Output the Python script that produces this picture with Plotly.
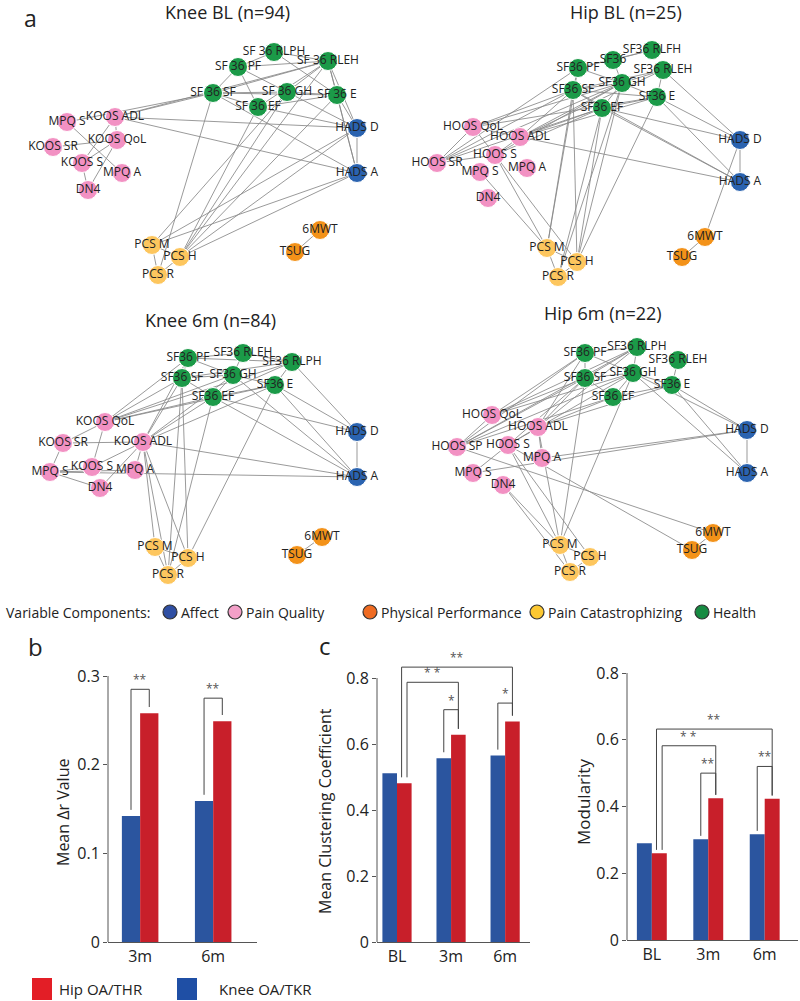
import plotly.graph_objects as go

W, H = 800, 1001
FONT = "Open Sans"
INK = "#222222"
AXIS = "#555555"

# variable components (node groups)
AFF, PQ, PP, PC, HE = "Affect", "Pain Quality", "Physical Performance", "Pain Catastrophizing", "Health"
components = [AFF, PQ, PP, PC, HE]
node_colors = {AFF: "#2a63b0", PQ: "#f291c3", PP: "#f39219", PC: "#fdc65e", HE: "#1b9a48"}
legend_colors = {AFF: "#2f4fa3", PQ: "#f3a0c8", PP: "#ef6b22", PC: "#fcc832", HE: "#178b42"}

# ---- network layouts: (label, component, x, y) in each panel's layout units ----
knee_bl_nodes = [
    ("SF 36 RLPH", HE, 274, 52), ("SF 36 RLEH", HE, 328, 61), ("SF 36 PF", HE, 238, 67),
    ("SF 36 SF", HE, 213, 93), ("SF 36 GH", HE, 287, 92), ("SF 36 EF", HE, 258, 107),
    ("SF 36 E", HE, 337, 95), ("HADS D", AFF, 357, 128), ("HADS A", AFF, 357, 173),
    ("KOOS ADL", PQ, 115, 117), ("MPQ S", PQ, 67, 122), ("KOOS QoL", PQ, 117, 140),
    ("KOOS SR", PQ, 53, 147), ("KOOS S", PQ, 82, 163), ("MPQ A", PQ, 122, 173),
    ("DN4", PQ, 88, 190), ("PCS M", PC, 152, 245), ("PCS H", PC, 180, 257),
    ("PCS R", PC, 158, 275), ("6MWT", PP, 320, 230), ("TSUG", PP, 295, 252),
]
knee_bl_edges = [
    ("SF 36 RLPH", "SF 36 RLEH"), ("SF 36 RLPH", "SF 36 PF"), ("SF 36 RLPH", "SF 36 E"),
    ("SF 36 PF", "SF 36 RLEH"), ("SF 36 PF", "SF 36 SF"), ("SF 36 PF", "SF 36 GH"),
    ("SF 36 PF", "SF 36 EF"), ("SF 36 SF", "SF 36 GH"), ("SF 36 SF", "SF 36 EF"),
    ("SF 36 SF", "SF 36 RLEH"), ("SF 36 SF", "SF 36 E"), ("SF 36 GH", "SF 36 E"),
    ("SF 36 GH", "SF 36 RLEH"), ("SF 36 EF", "SF 36 E"), ("SF 36 EF", "SF 36 RLEH"),
    ("SF 36 RLEH", "SF 36 E"), ("SF 36 RLEH", "HADS D"), ("SF 36 RLEH", "HADS A"),
    ("SF 36 E", "HADS D"), ("SF 36 E", "HADS A"), ("SF 36 GH", "HADS D"),
    ("SF 36 EF", "HADS D"), ("SF 36 SF", "HADS A"), ("HADS D", "HADS A"),
    ("KOOS ADL", "SF 36 SF"), ("KOOS ADL", "SF 36 RLEH"), ("MPQ S", "SF 36 SF"),
    ("KOOS ADL", "HADS D"), ("KOOS ADL", "HADS A"), ("KOOS ADL", "KOOS QoL"),
    ("KOOS ADL", "KOOS S"), ("KOOS QoL", "KOOS S"), ("KOOS QoL", "KOOS SR"),
    ("KOOS S", "DN4"), ("MPQ S", "MPQ A"), ("KOOS QoL", "DN4"),
    ("PCS H", "SF 36 E"), ("PCS H", "SF 36 RLEH"), ("PCS H", "SF 36 GH"),
    ("PCS H", "HADS D"), ("PCS H", "HADS A"), ("PCS H", "SF 36 EF"),
    ("PCS M", "HADS D"), ("PCS M", "HADS A"), ("PCS M", "SF 36 GH"),
    ("PCS R", "SF 36 SF"), ("PCS M", "PCS R"), ("PCS M", "PCS H"),
    ("PCS H", "PCS R"), ("6MWT", "TSUG"),
]

hip_bl_nodes = [
    ("SF36 RLFH", HE, 252, 50), ("SF36", HE, 213, 60), ("SF36 PF", HE, 178, 68),
    ("SF36 RLEH", HE, 263, 70), ("SF36 SF", HE, 173, 90), ("SF36 GH", HE, 222, 83),
    ("SF36 E", HE, 257, 97), ("SF36 EF", HE, 202, 108), ("HADS D", AFF, 340, 140),
    ("HADS A", AFF, 340, 182), ("HOOS QoL", PQ, 73, 127), ("HOOS ADL", PQ, 120, 137),
    ("HOOS S", PQ, 95, 155), ("HOOS SR", PQ, 37, 163), ("MPQ S", PQ, 80, 172),
    ("MPQ A", PQ, 127, 168), ("DN4", PQ, 88, 198), ("PCS M", PC, 147, 248),
    ("PCS H", PC, 177, 262), ("PCS R", PC, 158, 277), ("6MWT", PP, 305, 237),
    ("TSUG", PP, 282, 257),
]
hip_bl_edges = [
    ("SF36 RLFH", "SF36"), ("SF36 RLFH", "SF36 PF"), ("SF36 PF", "SF36 SF"),
    ("SF36 PF", "SF36 GH"), ("SF36", "SF36 GH"), ("SF36 SF", "SF36 GH"),
    ("SF36 SF", "SF36 EF"), ("SF36 SF", "SF36 E"), ("SF36 GH", "SF36 EF"),
    ("SF36 GH", "SF36 E"), ("SF36 GH", "SF36 RLEH"), ("SF36 RLEH", "SF36 E"),
    ("SF36 EF", "SF36 E"), ("SF36 SF", "SF36 RLEH"),
    ("SF36 RLEH", "HADS D"), ("SF36 E", "HADS D"), ("SF36 EF", "HADS D"),
    ("SF36 EF", "HADS A"), ("SF36 E", "HADS A"), ("SF36 SF", "HADS A"),
    ("HADS D", "HADS A"), ("HADS D", "6MWT"), ("6MWT", "TSUG"),
    ("HOOS SR", "SF36 SF"), ("HOOS SR", "SF36 PF"), ("HOOS SR", "SF36 EF"),
    ("HOOS SR", "SF36 GH"), ("HOOS QoL", "SF36 SF"), ("HOOS QoL", "SF36 GH"),
    ("HOOS QoL", "SF36 E"), ("HOOS ADL", "SF36 SF"), ("HOOS ADL", "SF36 GH"),
    ("HOOS ADL", "SF36 EF"), ("HOOS ADL", "SF36 E"), ("HOOS ADL", "SF36 RLEH"),
    ("HOOS ADL", "HADS A"), ("HOOS S", "SF36 EF"), ("HOOS S", "SF36 GH"),
    ("HOOS S", "HOOS ADL"), ("HOOS S", "HOOS QoL"), ("HOOS SR", "HOOS QoL"),
    ("HOOS SR", "HOOS S"), ("HOOS QoL", "HOOS ADL"),
    ("HOOS S", "PCS M"), ("MPQ S", "PCS M"), ("HOOS S", "PCS H"),
    ("PCS M", "SF36 SF"), ("PCS M", "SF36 PF"), ("PCS H", "SF36 SF"),
    ("PCS H", "SF36 GH"), ("PCS H", "SF36 EF"), ("PCS H", "SF36 E"),
    ("PCS R", "SF36 GH"), ("PCS R", "SF36 EF"), ("PCS M", "PCS R"),
    ("PCS M", "PCS H"), ("PCS H", "PCS R"),
]

knee_6m_nodes = [
    ("SF36 PF", HE, 188, 68), ("SF36 RLEH", HE, 243, 63), ("SF36 RLPH", HE, 292, 72),
    ("SF36 SF", HE, 182, 88), ("SF36 GH", HE, 233, 85), ("SF36 E", HE, 275, 95),
    ("SF36 EF", HE, 213, 107), ("HADS D", AFF, 357, 142), ("HADS A", AFF, 357, 187),
    ("KOOS QoL", PQ, 105, 132), ("KOOS ADL", PQ, 143, 152), ("KOOS SR", PQ, 63, 153),
    ("KOOS S", PQ, 92, 177), ("MPQ S", PQ, 50, 182), ("MPQ A", PQ, 135, 180),
    ("DN4", PQ, 100, 198), ("PCS M", PC, 155, 257), ("PCS H", PC, 188, 268),
    ("PCS R", PC, 168, 285), ("6MWT", PP, 322, 247), ("TSUG", PP, 297, 265),
]
knee_6m_edges = [
    ("SF36 PF", "SF36 RLEH"), ("SF36 PF", "SF36 SF"), ("SF36 PF", "SF36 GH"),
    ("SF36 PF", "SF36 RLPH"), ("SF36 RLEH", "SF36 RLPH"), ("SF36 RLEH", "SF36 GH"),
    ("SF36 SF", "SF36 GH"), ("SF36 SF", "SF36 EF"), ("SF36 SF", "SF36 RLPH"),
    ("SF36 GH", "SF36 E"), ("SF36 GH", "SF36 EF"), ("SF36 EF", "SF36 RLPH"),
    ("SF36 E", "SF36 RLPH"), ("SF36 EF", "SF36 E"),
    ("SF36 RLPH", "HADS D"), ("SF36 E", "HADS D"), ("SF36 E", "HADS A"),
    ("SF36 EF", "HADS D"), ("SF36 EF", "HADS A"), ("SF36 GH", "HADS A"),
    ("HADS D", "HADS A"), ("KOOS ADL", "HADS A"), ("MPQ S", "HADS A"),
    ("KOOS QoL", "SF36 PF"), ("KOOS QoL", "SF36 SF"), ("KOOS QoL", "SF36 GH"),
    ("KOOS QoL", "SF36 EF"), ("KOOS QoL", "SF36 E"), ("KOOS QoL", "SF36 RLPH"),
    ("KOOS ADL", "SF36 SF"), ("KOOS ADL", "SF36 GH"), ("KOOS ADL", "SF36 EF"),
    ("KOOS ADL", "SF36 E"), ("KOOS ADL", "SF36 PF"), ("KOOS SR", "KOOS QoL"),
    ("KOOS SR", "KOOS ADL"), ("KOOS SR", "MPQ S"), ("KOOS QoL", "KOOS S"),
    ("KOOS ADL", "KOOS S"), ("KOOS ADL", "MPQ A"), ("KOOS ADL", "DN4"),
    ("KOOS S", "MPQ S"), ("MPQ S", "DN4"), ("MPQ S", "MPQ A"),
    ("KOOS ADL", "PCS M"), ("KOOS ADL", "PCS H"), ("KOOS ADL", "PCS R"),
    ("PCS H", "SF36 E"), ("PCS H", "SF36 SF"), ("PCS R", "SF36 SF"),
    ("PCS R", "SF36 EF"), ("PCS M", "PCS R"), ("PCS M", "PCS H"),
    ("PCS H", "PCS R"), ("6MWT", "TSUG"),
]

hip_6m_nodes = [
    ("SF36 PF", HE, 185, 63), ("SF36 RLPH", HE, 237, 57), ("SF36 RLEH", HE, 278, 70),
    ("SF36 SF", HE, 185, 88), ("SF36 GH", HE, 233, 83), ("SF36 E", HE, 272, 95),
    ("SF36 EF", HE, 213, 107), ("HADS D", AFF, 347, 140), ("HADS A", AFF, 347, 183),
    ("HOOS QoL", PQ, 92, 125), ("HOOS ADL", PQ, 138, 137), ("HOOS SP", PQ, 57, 157),
    ("HOOS S", PQ, 108, 155), ("MPQ A", PQ, 142, 168), ("MPQ S", PQ, 73, 183),
    ("DN4", PQ, 103, 195), ("PCS M", PC, 160, 255), ("PCS H", PC, 190, 267),
    ("PCS R", PC, 170, 282), ("6MWT", PP, 313, 243), ("TSUG", PP, 292, 260),
]
hip_6m_edges = [
    ("SF36 PF", "SF36 RLPH"), ("SF36 PF", "SF36 SF"), ("SF36 PF", "SF36 GH"),
    ("SF36 RLPH", "SF36 SF"), ("SF36 RLPH", "SF36 GH"), ("SF36 SF", "SF36 GH"),
    ("SF36 SF", "SF36 EF"), ("SF36 GH", "SF36 EF"), ("SF36 GH", "SF36 E"),
    ("SF36 RLEH", "SF36 E"), ("SF36 EF", "SF36 E"),
    ("SF36 GH", "HADS A"), ("SF36 E", "HADS D"), ("SF36 E", "HADS A"),
    ("SF36 GH", "HADS D"), ("HADS D", "HADS A"), ("MPQ S", "HADS D"),
    ("MPQ A", "HADS D"),
    ("HOOS SP", "SF36 PF"), ("HOOS SP", "SF36 SF"), ("HOOS SP", "SF36 RLPH"),
    ("HOOS SP", "SF36 GH"), ("HOOS SP", "SF36 EF"), ("HOOS QoL", "SF36 PF"),
    ("HOOS QoL", "SF36 SF"), ("HOOS QoL", "SF36 RLPH"), ("HOOS QoL", "SF36 GH"),
    ("HOOS ADL", "SF36 SF"), ("HOOS ADL", "SF36 PF"), ("HOOS ADL", "SF36 EF"),
    ("HOOS ADL", "SF36 E"), ("HOOS ADL", "SF36 RLPH"), ("HOOS S", "SF36 SF"),
    ("HOOS S", "SF36 GH"), ("HOOS S", "HOOS ADL"), ("HOOS S", "MPQ S"),
    ("HOOS ADL", "MPQ A"), ("HOOS SP", "HOOS QoL"), ("HOOS SP", "6MWT"),
    ("HOOS S", "TSUG"),
    ("HOOS S", "PCS M"), ("HOOS S", "PCS H"), ("DN4", "PCS M"), ("DN4", "PCS R"),
    ("HOOS ADL", "PCS M"), ("PCS M", "SF36 SF"), ("PCS M", "SF36 GH"),
    ("PCS M", "PCS R"), ("PCS M", "PCS H"), ("PCS H", "PCS R"), ("6MWT", "TSUG"),
]

network_titles = ["Knee BL (n=94)", "Hip BL (n=25)", "Knee 6m (n=84)", "Hip 6m (n=22)"]
network_nodes = [knee_bl_nodes, hip_bl_nodes, knee_6m_nodes, hip_6m_nodes]
network_edges = [knee_bl_edges, hip_bl_edges, knee_6m_edges, hip_6m_edges]

# ---- bar chart data ----
periods_b = ["3m", "6m"]
delta_r_knee = [0.142, 0.159]
delta_r_hip = [0.258, 0.249]

periods_c = ["BL", "3m", "6m"]
clustering_knee = [0.511, 0.557, 0.565]
clustering_hip = [0.481, 0.628, 0.668]
modularity_knee = [0.290, 0.302, 0.317]
modularity_hip = [0.260, 0.425, 0.423]

# significance brackets: (group a, series a, group b, series b, bracket level, stars)
sig_delta_r = [(0, "knee", 0, "hip", 0.285, "**"), (1, "knee", 1, "hip", 0.275, "**")]
sig_clustering = [(1, "knee", 1, "hip", 0.704, "*"), (2, "knee", 2, "hip", 0.724, "*"),
                  (0, "hip", 1, "hip", 0.787, "* *"), (0, "hip", 2, "hip", 0.833, "**")]
sig_modularity = [(1, "knee", 1, "hip", 0.50, "**"), (2, "knee", 2, "hip", 0.52, "**"),
                  (0, "hip", 1, "hip", 0.582, "* *"), (0, "hip", 2, "hip", 0.632, "**")]

KNEE_COLOR = "#2b559f"
HIP_COLOR = "#c81f2a"


def xdom(a, b):
    return [a / W, b / W]


def ydom(top, bottom):
    return [1 - bottom / H, 1 - top / H]


def axis_names(i):
    s = "" if i == 1 else str(i)
    return "x" + s, "y" + s, "xaxis" + s, "yaxis" + s


def note(x, y, text, size, xanchor="center", yanchor="middle", xref="paper", yref="paper", **kw):
    if xref == "paper":
        x = x / W
    if yref == "paper":
        y = 1 - y / H
    return dict(xref=xref, yref=yref, x=x, y=y, text=text, showarrow=False,
                xanchor=xanchor, yanchor=yanchor, font=dict(size=size, color=kw.pop("color", INK)), **kw)


fig = go.Figure()
layout_axes = {}
annotations = []
shapes = []

# ---- panel a: four networks ----
net_regions = [(0, 0, 400, 290), (400, 0, 800, 290), (0, 290, 400, 590), (400, 290, 800, 590)]
title_pos = [(227, 12), (226, 12), (210, 30), (203, 23)]

for k in range(4):
    xr, yr, xa, ya = axis_names(k + 1)
    x0, y0, x1, y1 = net_regions[k]
    layout_axes[xa] = dict(domain=xdom(x0, x1), range=[0, x1 - x0], visible=False,
                           anchor=yr, automargin=False)
    layout_axes[ya] = dict(domain=ydom(y0, y1), range=[y1 - y0, 0], visible=False,
                           anchor=xr, automargin=False)

    nodes = network_nodes[k]
    pos = {n[0]: (n[2], n[3]) for n in nodes}
    ex, ey = [], []
    for a, b in network_edges[k]:
        ex += [pos[a][0], pos[b][0], None]
        ey += [pos[a][1], pos[b][1], None]
    fig.add_trace(go.Scatter(x=ex, y=ey, mode="lines", xaxis=xr, yaxis=yr,
                             line=dict(color="#888888", width=0.85),
                             hoverinfo="skip", showlegend=False))
    fig.add_trace(go.Scatter(
        x=[n[2] for n in nodes], y=[n[3] for n in nodes], xaxis=xr, yaxis=yr,
        mode="markers+text", text=[n[0] for n in nodes], textposition="middle center",
        textfont=dict(size=12, color=INK, family=FONT),
        marker=dict(size=19, color=[node_colors[n[1]] for n in nodes],
                    line=dict(color="white", width=1)),
        showlegend=False,
    ))
    annotations.append(note(title_pos[k][0], title_pos[k][1], network_titles[k], 18,
                            xref=xr, yref=yr))

# component legend row
annotations.append(note(4, 612, "Variable Components:", 14, xanchor="left"))
leg_circle_x = [170, 235, 370, 537, 702]
for comp, cx in zip(components, leg_circle_x):
    shapes.append(dict(type="circle", xref="paper", yref="paper",
                       x0=(cx - 7) / W, x1=(cx + 7) / W, y0=1 - 619 / H, y1=1 - 605 / H,
                       fillcolor=legend_colors[comp], line=dict(color="#333", width=1.2)))
    annotations.append(note(cx + 9, 612, comp, 14, xanchor="left"))

# ---- panels b and c: bar charts ----
bar_panels = [
    dict(cats=periods_b, knee=delta_r_knee, hip=delta_r_hip, sig=sig_delta_r,
         x0=108, x1=257, xrange=[-0.44, 1.6], w=0.25, bottom=942, top_tick_px=676,
         ticks=[0, 0.1, 0.2, 0.3], ytop=0.3, gap=0.007,
         ylabel="Mean Δr Value", lab_x=63, lab_y=813, lab_size=16),
    dict(cats=periods_c, knee=clustering_knee, hip=clustering_hip, sig=sig_clustering,
         x0=377, x1=530, xrange=[-0.37, 2.46], w=0.27, bottom=942, top_tick_px=678,
         ticks=[0, 0.2, 0.4, 0.6, 0.8], ytop=0.9, gap=0.018,
         ylabel="Mean Clustering Coefficient", lab_x=325, lab_y=811, lab_size=16),
    dict(cats=periods_c, knee=modularity_knee, hip=modularity_hip, sig=sig_modularity,
         x0=627, x1=798, xrange=[-0.44, 2.59], w=0.265, bottom=940, top_tick_px=673,
         ticks=[0, 0.2, 0.4, 0.6, 0.8], ytop=0.8, gap=0.01,
         ylabel="Modularity", lab_x=583, lab_y=802, lab_size=17),
]

for j, p in enumerate(bar_panels):
    xr, yr, xa, ya = axis_names(5 + j)
    tmax = p["ticks"][-1]
    px_per_unit = (p["bottom"] - p["top_tick_px"]) / tmax
    top_px = p["bottom"] - p["ytop"] * px_per_unit
    layout_axes[xa] = dict(domain=xdom(p["x0"], p["x1"]), range=p["xrange"], anchor=yr,
                           type="category", showline=True, linecolor=AXIS, linewidth=1,
                           ticks="", showgrid=False, zeroline=False, automargin=False,
                           tickfont=dict(size=16, color=INK))
    layout_axes[ya] = dict(domain=ydom(top_px, p["bottom"]), range=[0, p["ytop"]], anchor=xr,
                           showline=False, showgrid=False, zeroline=False, automargin=False,
                           tickvals=p["ticks"], ticktext=["0"] + [f"{t:g}" for t in p["ticks"][1:]],
                           ticks="outside", ticklen=4, tickcolor=AXIS,
                           tickfont=dict(size=16, color=INK))
    # y axis line up to the last tick
    shapes.append(dict(type="line", xref=xr + " domain", yref=yr, x0=0, x1=0, y0=0, y1=tmax,
                       line=dict(color=AXIS, width=1)))
    w = p["w"]
    fig.add_trace(go.Bar(x=p["cats"], y=p["knee"], xaxis=xr, yaxis=yr, width=w, offset=-w,
                         marker=dict(color=KNEE_COLOR, line=dict(width=0)), showlegend=False))
    fig.add_trace(go.Bar(x=p["cats"], y=p["hip"], xaxis=xr, yaxis=yr, width=w, offset=0,
                         marker=dict(color=HIP_COLOR, line=dict(width=0)), showlegend=False))

    vals = {"knee": p["knee"], "hip": p["hip"]}
    for n, (ia, sa, ib, sb, level, stars) in enumerate(p["sig"]):
        nudge = 0.0
        if ia != ib:
            nudge = 0.05 if n == 2 else -0.05
        xa_ = ia + (-w / 2 if sa == "knee" else w / 2) + nudge
        xb_ = ib + (-w / 2 if sb == "knee" else w / 2)
        ya_ = vals[sa][ia] + p["gap"]
        yb_ = vals[sb][ib] + p["gap"]
        for (u0, v0, u1, v1) in [(xa_, ya_, xa_, level), (xa_, level, xb_, level),
                                 (xb_, level, xb_, yb_)]:
            shapes.append(dict(type="line", xref=xr, yref=yr, x0=u0, y0=v0, x1=u1, y1=v1,
                               line=dict(color="#444", width=1)))
        annotations.append(note((xa_ + xb_) / 2, level, stars, 12, yanchor="bottom",
                                xref=xr, yref=yr, yshift=-1, color="#555"))
    annotations.append(note(p["lab_x"], p["lab_y"], p["ylabel"], p["lab_size"], textangle=-90))

# bottom legend for bars
for label, color, sx, tx in [("Hip OA/THR", "#e31e26", 32, 57), ("Knee OA/TKR", "#1f4fa5", 177, 217)]:
    shapes.append(dict(type="rect", xref="paper", yref="paper", x0=sx / W, x1=(sx + 20) / W,
                       y0=1 - 1000 / H, y1=1 - 978 / H, fillcolor=color, line=dict(width=0)))
    annotations.append(note(tx, 989, label, 15, xanchor="left"))

# panel letters
annotations.append(note(30, 0, "a", 23, yanchor="top"))
for letter, lx, ly in [("b", 35, 646), ("c", 325, 645)]:
    annotations.append(note(lx, ly, letter, 24))

fig.update_layout(
    template="none",
    width=W, height=H,
    margin=dict(l=0, r=0, t=0, b=0, pad=0, autoexpand=False),
    paper_bgcolor="white", plot_bgcolor="rgba(0,0,0,0)",
    font=dict(family=FONT, color=INK),
    barmode="overlay",
    showlegend=False,
    annotations=annotations,
    shapes=shapes,
    **layout_axes,
)

fig.write_html("out.html", config={"displayModeBar": False},
               post_script="document.body.style.margin='0';")
